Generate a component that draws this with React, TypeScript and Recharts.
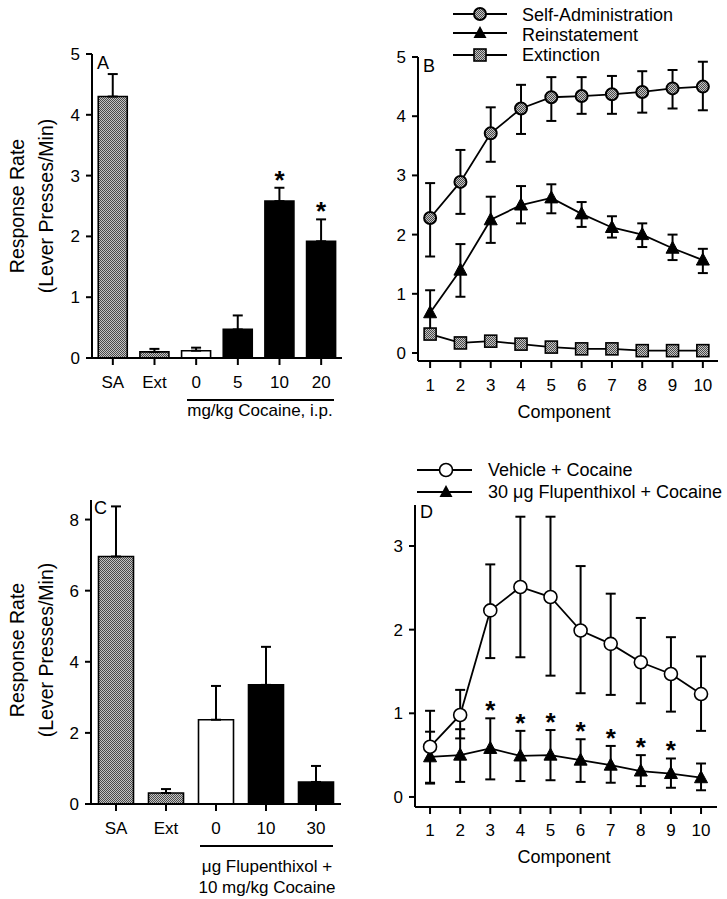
import React from "react";
import { ComposedChart, Bar, Line, XAxis, YAxis, ErrorBar, Cell } from "recharts";

// ---------- DATA ----------
// Panel A
const catA = ["SA", "Ext", "0", "5", "10", "20"];
const groupA = ["base", "base", "vehicle", "drug", "drug", "drug"];
const meanA = [4.3, 0.1, 0.12, 0.47, 2.58, 1.92];
const errA = [0.37, 0.05, 0.05, 0.23, 0.22, 0.36];
const sigA = [false, false, false, false, true, true];

// Panel B
const compB = [1, 2, 3, 4, 5, 6, 7, 8, 9, 10];
const saMean = [2.28, 2.89, 3.71, 4.13, 4.32, 4.34, 4.37, 4.41, 4.47, 4.5];
const saLow = [1.63, 2.35, 3.23, 3.7, 3.92, 4.04, 4.04, 4.06, 4.13, 4.1];
const saHigh = [2.87, 3.43, 4.15, 4.53, 4.66, 4.66, 4.68, 4.76, 4.78, 4.92];
const reMean = [0.68, 1.4, 2.25, 2.5, 2.62, 2.35, 2.12, 2.0, 1.77, 1.57];
const reLow = [0.3, 0.95, 1.86, 2.19, 2.36, 2.13, 1.95, 1.79, 1.57, 1.35];
const reHigh = [1.06, 1.84, 2.64, 2.82, 2.85, 2.55, 2.31, 2.19, 2.0, 1.76];
const exMean = [0.32, 0.17, 0.2, 0.15, 0.1, 0.07, 0.07, 0.04, 0.04, 0.04];

// Panel C
const catC = ["SA", "Ext", "0", "10", "30"];
const groupC = ["base", "base", "vehicle", "drug", "drug"];
const meanC = [6.96, 0.31, 2.37, 3.35, 0.62];
const errC = [1.41, 0.11, 0.95, 1.07, 0.45];

// Panel D
const compD = [1, 2, 3, 4, 5, 6, 7, 8, 9, 10];
const vehMean = [0.6, 0.98, 2.23, 2.51, 2.39, 1.99, 1.83, 1.61, 1.47, 1.23];
const vehLow = [0.17, 0.7, 1.66, 1.67, 1.45, 1.24, 1.22, 1.12, 1.02, 0.79];
const vehHigh = [1.03, 1.28, 2.78, 3.35, 3.35, 2.76, 2.43, 2.14, 1.91, 1.68];
const fluMean = [0.48, 0.5, 0.58, 0.49, 0.5, 0.44, 0.38, 0.31, 0.28, 0.23];
const fluLow = [0.16, 0.18, 0.21, 0.19, 0.2, 0.18, 0.17, 0.13, 0.11, 0.08];
const fluHigh = [0.78, 0.81, 0.94, 0.79, 0.8, 0.69, 0.61, 0.5, 0.46, 0.4];
const sigD = [false, false, true, true, true, true, true, true, true, false];

// ---------- TABLES ----------
const dataA = catA.map((c, i) => ({
  cat: c,
  group: groupA[i],
  v: meanA[i],
  e: [0, errA[i]],
  star: sigA[i] ? meanA[i] + errA[i] : null,
}));
const dataC = catC.map((c, i) => ({
  cat: c,
  group: groupC[i],
  v: meanC[i],
  e: [0, errC[i]],
  star: null,
}));
const dataB = compB.map((x, i) => ({
  x,
  sa: saMean[i],
  saE: [saMean[i] - saLow[i], saHigh[i] - saMean[i]],
  re: reMean[i],
  reE: [reMean[i] - reLow[i], reHigh[i] - reMean[i]],
  ex: exMean[i],
}));
const dataD = compD.map((x, i) => ({
  x,
  veh: vehMean[i],
  vehE: [vehMean[i] - vehLow[i], vehHigh[i] - vehMean[i]],
  flu: fluMean[i],
  fluE: [fluMean[i] - fluLow[i], fluHigh[i] - fluMean[i]],
  star: sigD[i] ? fluHigh[i] : null,
}));

// ---------- STYLE ----------
const FONT = "'Liberation Sans', Arial, Helvetica, sans-serif";
const W = 727;
const H = 899;
const YW = 60;
const XH = 30;
const axisStyle = { stroke: "#000", strokeWidth: 2 };
const tickStyle = { fill: "#000", fontSize: 17, fontFamily: FONT };
const groupFill: Record<string, string> = {
  base: "url(#halftone)",
  vehicle: "#fff",
  drug: "#000",
};

const starDot = (p: any) => {
  const { cx, cy, index, value } = p;
  if (value == null || cy == null || isNaN(cy)) return <g key={"s" + index} />;
  return (
    <text key={"s" + index} x={cx} y={cy + 1} textAnchor="middle" fontSize={26} fontWeight="bold" fontFamily={FONT} fill="#000">
      *
    </text>
  );
};

const circleDot = (p: any) => (
  <circle key={"c" + p.index} cx={p.cx} cy={p.cy} r={6} fill="url(#halftone)" stroke="#000" strokeWidth={2} />
);
const openDot = (p: any) => (
  <circle key={"o" + p.index} cx={p.cx} cy={p.cy} r={6.5} fill="#fff" stroke="#000" strokeWidth={1.6} />
);
const triDot = (p: any) => (
  <polygon
    key={"t" + p.index}
    points={`${p.cx},${p.cy - 7} ${p.cx - 6.5},${p.cy + 5} ${p.cx + 6.5},${p.cy + 5}`}
    fill="#000"
    stroke="#000"
    strokeWidth={1}
  />
);
const squareDot = (p: any) => (
  <rect key={"q" + p.index} x={p.cx - 6} y={p.cy - 6} width={12} height={12} fill="url(#halftone)" stroke="#000" strokeWidth={1.6} />
);

type Box = { left: number; right: number; top: number; bottom: number };
const marginFor = (b: Box) => ({
  top: b.top,
  right: W - b.right,
  bottom: H - b.bottom - XH,
  left: b.left - YW,
});

const layer: React.CSSProperties = { position: "absolute", left: 0, top: 0 };

function BarPanel({ data, box, domain, ticks }: { data: any[]; box: Box; domain: number[]; ticks: number[] }) {
  return (
    <div style={layer}>
      <ComposedChart width={W} height={H} data={data} margin={marginFor(box)} barCategoryGap="15%">
        <XAxis
          dataKey="cat"
          type="category"
          interval={0}
          height={XH}
          axisLine={axisStyle}
          tickLine={axisStyle}
          tickSize={7}
          tickMargin={11}
          tick={tickStyle}
        />
        <YAxis
          type="number"
          domain={domain}
          ticks={ticks}
          width={YW}
          allowDataOverflow
          axisLine={axisStyle}
          tickLine={axisStyle}
          tickSize={6}
          tickMargin={6}
          tick={tickStyle}
        />
        <Bar dataKey="v" stroke="#000" strokeWidth={1.6} isAnimationActive={false}>
          {data.map((d, i) => (
            <Cell key={i} fill={groupFill[d.group]} />
          ))}
          <ErrorBar dataKey="e" direction="y" width={5} stroke="#000" strokeWidth={2} />
        </Bar>
        <Line dataKey="star" stroke="none" dot={starDot} activeDot={false} isAnimationActive={false} />
      </ComposedChart>
    </div>
  );
}

const compTicks = [1, 2, 3, 4, 5, 6, 7, 8, 9, 10];

function PanelB() {
  const box = { left: 418, right: 718, top: 57, bottom: 361 };
  return (
    <div style={layer}>
      <ComposedChart width={W} height={H} data={dataB} margin={marginFor(box)}>
        <XAxis
          dataKey="x"
          type="number"
          domain={[0.6, 10.5]}
          ticks={compTicks}
          allowDataOverflow
          interval={0}
          height={XH}
          axisLine={axisStyle}
          tickLine={axisStyle}
          tickSize={7}
          tickMargin={11}
          tick={tickStyle}
        />
        <YAxis
          type="number"
          domain={[-0.135, 5]}
          ticks={[0, 1, 2, 3, 4, 5]}
          allowDataOverflow
          width={YW}
          axisLine={axisStyle}
          tickLine={axisStyle}
          tickSize={6}
          tickMargin={6}
          tick={tickStyle}
        />
        <Line dataKey="ex" stroke="#000" strokeWidth={1.8} dot={squareDot} activeDot={false} isAnimationActive={false} />
        <Line dataKey="re" stroke="#000" strokeWidth={1.8} dot={triDot} activeDot={false} isAnimationActive={false}>
          <ErrorBar dataKey="reE" direction="y" width={5} stroke="#000" strokeWidth={2} />
        </Line>
        <Line dataKey="sa" stroke="#000" strokeWidth={1.8} dot={circleDot} activeDot={false} isAnimationActive={false}>
          <ErrorBar dataKey="saE" direction="y" width={5} stroke="#000" strokeWidth={2} />
        </Line>
      </ComposedChart>
    </div>
  );
}

function PanelD() {
  const box = { left: 415, right: 717, top: 505, bottom: 807 };
  return (
    <div style={layer}>
      <ComposedChart width={W} height={H} data={dataD} margin={marginFor(box)}>
        <XAxis
          dataKey="x"
          type="number"
          domain={[0.5, 10.53]}
          ticks={compTicks}
          allowDataOverflow
          interval={0}
          height={XH}
          axisLine={axisStyle}
          tickLine={axisStyle}
          tickSize={7}
          tickMargin={10}
          tick={tickStyle}
        />
        <YAxis
          type="number"
          domain={[-0.12, 3.49]}
          ticks={[0, 1, 2, 3]}
          allowDataOverflow
          width={YW}
          axisLine={axisStyle}
          tickLine={axisStyle}
          tickSize={6}
          tickMargin={6}
          tick={tickStyle}
        />
        <Line dataKey="flu" stroke="#000" strokeWidth={1.8} dot={triDot} activeDot={false} isAnimationActive={false}>
          <ErrorBar dataKey="fluE" direction="y" width={5} stroke="#000" strokeWidth={2} />
        </Line>
        <Line dataKey="veh" stroke="#000" strokeWidth={1.8} dot={openDot} activeDot={false} isAnimationActive={false}>
          <ErrorBar dataKey="vehE" direction="y" width={5} stroke="#000" strokeWidth={2} />
        </Line>
        <Line dataKey="star" stroke="none" dot={starDot} activeDot={false} isAnimationActive={false} />
      </ComposedChart>
    </div>
  );
}

function Overlay() {
  const t = { fontFamily: FONT, fill: "#000" } as const;
  const yLabel = (cy: number) => (
    <g>
      <text {...t} fontSize={19.5} x={17} y={cy} textAnchor="middle" dominantBaseline="central" transform={`rotate(-90, 17, ${cy})`}>
        Response Rate
      </text>
      <text {...t} fontSize={19.5} x={46} y={cy} textAnchor="middle" dominantBaseline="central" transform={`rotate(-90, 46, ${cy})`}>
        (Lever Presses/Min)
      </text>
    </g>
  );
  const legLine = (x1: number, x2: number, y: number) => <line x1={x1} x2={x2} y1={y} y2={y} stroke="#000" strokeWidth={1.8} />;
  return (
    <svg width={W} height={H} style={{ ...layer, pointerEvents: "none" }}>
      <defs>
        <pattern id="halftone" width="2" height="2" patternUnits="userSpaceOnUse">
          <rect width="2" height="2" fill="#c4c4c4" />
          <rect width="1" height="1" fill="#4a4a4a" />
          <rect x="1" y="1" width="1" height="1" fill="#4a4a4a" />
        </pattern>
      </defs>
      {/* Panel letters */}
      <text {...t} fontSize={18} x={97} y={68.5}>A</text>
      <text {...t} fontSize={18} x={423} y={71.5}>B</text>
      <text {...t} fontSize={18} x={94} y={513.5}>C</text>
      <text {...t} fontSize={18} x={420} y={517.5}>D</text>
      {yLabel(206)}
      {yLabel(650)}
      {/* Panel A group label */}
      <line x1={187} x2={334} y1={400} y2={400} stroke="#000" strokeWidth={2} />
      <text {...t} fontSize={17} x={260} y={410} textAnchor="middle" dominantBaseline="central">
        mg/kg Cocaine, i.p.
      </text>
      {/* Panel C group label */}
      <line x1={200} x2={333} y1={846} y2={846} stroke="#000" strokeWidth={2} />
      <text {...t} fontSize={17} x={267} y={866} textAnchor="middle" dominantBaseline="central">
        μg Flupenthixol +
      </text>
      <text {...t} fontSize={17} x={267} y={887} textAnchor="middle" dominantBaseline="central">
        10 mg/kg Cocaine
      </text>
      {/* Component titles */}
      <text {...t} fontSize={18} x={564} y={412} textAnchor="middle" dominantBaseline="central">Component</text>
      <text {...t} fontSize={18} x={564} y={857} textAnchor="middle" dominantBaseline="central">Component</text>
      {/* Legend B */}
      {legLine(453, 507, 14)}
      <circle cx={480} cy={14} r={6} fill="url(#halftone)" stroke="#000" strokeWidth={2} />
      <text {...t} fontSize={18} x={522} y={15} dominantBaseline="central">Self-Administration</text>
      {legLine(453, 507, 33)}
      <polygon points="480,26 473.5,38 486.5,38" fill="#000" />
      <text {...t} fontSize={18} x={522} y={35} dominantBaseline="central">Reinstatement</text>
      {legLine(453, 507, 55)}
      <rect x={474} y={49} width={12} height={12} fill="url(#halftone)" stroke="#000" strokeWidth={1.6} />
      <text {...t} fontSize={18} x={522} y={55} dominantBaseline="central">Extinction</text>
      {/* Legend D */}
      {legLine(417, 472, 470)}
      <circle cx={446} cy={470} r={6.5} fill="#fff" stroke="#000" strokeWidth={1.6} />
      <text {...t} fontSize={18} x={488} y={470} dominantBaseline="central">Vehicle + Cocaine</text>
      {legLine(417, 472, 492)}
      <polygon points="446,485 439.5,497 452.5,497" fill="#000" />
      <text {...t} fontSize={18} x={488} y={492} dominantBaseline="central">30 μg Flupenthixol + Cocaine</text>
    </svg>
  );
}

export default function App() {
  return (
    <div style={{ position: "absolute", left: 0, top: 0, width: W, height: H, background: "#fff", overflow: "hidden" }}>
      <Overlay />
      <BarPanel data={dataA} box={{ left: 92, right: 342, top: 54, bottom: 358 }} domain={[0, 5]} ticks={[0, 1, 2, 3, 4, 5]} />
      <BarPanel data={dataC} box={{ left: 91, right: 341, top: 500, bottom: 804 }} domain={[0, 8.55]} ticks={[0, 2, 4, 6, 8]} />
      <PanelB />
      <PanelD />
    </div>
  );
}
